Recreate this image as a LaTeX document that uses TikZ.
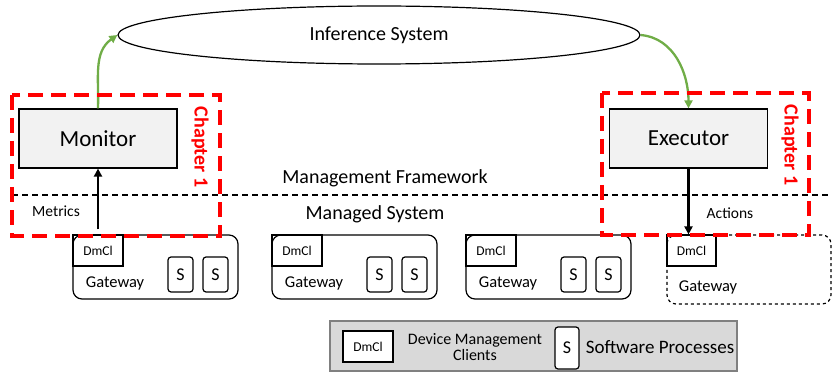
\documentclass[tikz,border=0pt]{standalone}
\usepackage{fontspec}
\setmainfont{Carlito}
\usetikzlibrary{arrows.meta,shapes.geometric}
\definecolor{arrowgreen}{HTML}{70AD47}
\definecolor{boxgray}{HTML}{F2F2F2}
\definecolor{legendgray}{HTML}{D9D9D9}
\newcommand{\fsz}[1]{\fontsize{#1}{#1}\selectfont}
\tikzset{
    compbox/.style = {draw, line width=1.2pt, fill=boxgray, minimum width=158pt, minimum height=59pt, font=\fsz{23}},
    gwbox/.style = {draw, line width=1.2pt, rounded corners=9pt, minimum width=165pt, minimum height=64pt},
    dmbox/.style = {draw, line width=1.2pt, minimum width=50pt, minimum height=31pt, font=\fsz{13.5}, anchor=north west},
    procbox/.style = {draw, line width=1.2pt, rounded corners=3pt, minimum width=25pt, minimum height=35pt, font=\fsz{18}},
    chapbox/.style = {draw=red, line width=3.5pt, dash pattern=on 15pt off 8pt},
    chaplabel/.style = {red, font=\bfseries\fsz{20}, rotate=-90},
    greenarrow/.style = {arrowgreen, line width=2.3pt, -{Triangle[length=8pt,width=8pt]}},
    blackarrow/.style = {line width=2.5pt, -{Triangle[length=8pt,width=8pt]}},
    label/.style = {font=\fsz{20}},
    smalllabel/.style = {font=\fsz{15.5}}
}
\begin{document}
\begin{tikzpicture}[x = 1pt, y = -1pt]
            \useasboundingbox (0,0) rectangle (832,374);
            % layer boundary
            \draw[dashed, line width=1.4pt, dash pattern=on 6pt off 4pt] (12,195) coordinate (lineL) -- (832,195) coordinate (lineR);
            \node[label] (mf) at (385,178) {Management Framework};
            \node[label] (ms) at (375,214) {Managed System};
            % inference loop
            \node[draw, line width=1.2pt, ellipse, minimum width=522pt, minimum height=58pt, font=\fsz{20}] (inf) at (379,35) {Inference System};
            \node[compbox] (mon) at (98,138.5) {Monitor};
            \node[compbox] (exe) at (688.5,138.5) {Executor};
            % gateways
            \foreach \i/\x in {1/155.5, 2/354.5, 3/548.5}{
                \node[gwbox] (gw\i) at (\x,267) {};
                \node[dmbox] (dm\i) at (gw\i.north west) {DmCl};
                \node[font=\fsz{16.5}] (gt\i) at (\x-40.5,283) {Gateway};
                \node[procbox] (sa\i) at (\x+25,274.5) {S};
                \node[procbox] (sb\i) at (\x+60,274.5) {S};
            }
            \node[gwbox, dashed, minimum width=164pt, minimum height=69pt] (gw4) at (749,269.5) {};
            \node[dmbox, minimum width=49pt] (dm4) at (gw4.north west) {DmCl};
            \node[font=\fsz{16.5}] (gt4) at (708,287) {Gateway};
            % connectors
            \draw[greenarrow] (mon.north) to[out=88, in=215] (inf.west);
            \draw[greenarrow] (inf.east) to[out=-5, in=90] (exe.north);
            \draw[blackarrow, shorten <=5pt] (dm1.north) -- (mon.south);
            \draw[blackarrow] (exe.south) -- (exe.south |- dm4.north);
            \node[smalllabel] (met) at (56,211) {Metrics};
            \node[smalllabel] (act) at (730,213) {Actions};
            % chapter marks
            \draw[chapbox] (12,95) rectangle (220,236);
            \draw[chapbox] (602,93) rectangle (809,235);
            \node[chaplabel] (chL) at (200,147) {Chapter 1};
            \node[chaplabel] (chR) at (790,145) {Chapter 1};
            % legend
            \node[draw=gray, line width=1.2pt, fill=legendgray, minimum width=407pt, minimum height=50pt] (leg) at (533.5,346) {};
            \node[draw, line width=1.2pt, fill=white, minimum width=50pt, minimum height=31pt, font=\fsz{13.5}] (legdm) at (368,346.5) {DmCl};
            \node[font=\fsz{16}, align=center] (legdmt) at (475,347) {Device Management\\Clients};
            \node[procbox, fill=white, minimum width=24pt, minimum height=42pt] (legs) at (567,348) {S};
            \node[font=\fsz{19}] (legst) at (660,347) {Software Processes};
\end{tikzpicture}
\end{document}
